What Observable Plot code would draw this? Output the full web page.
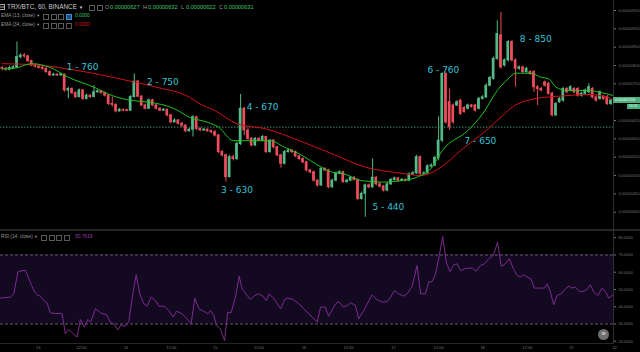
<!DOCTYPE html>
<html><head><meta charset="utf-8">
<script src="https://cdn.jsdelivr.net/npm/d3@7"></script>
<script src="https://cdn.jsdelivr.net/npm/@observablehq/plot@0.6"></script>
<style>
html,body{margin:0;padding:0;background:#000;}
#wrap{position:relative;width:640px;height:352px;background:#000;overflow:hidden;font-family:"Liberation Sans",Arial,sans-serif;}
#main{position:absolute;left:0;top:0;}
#rsi{position:absolute;left:0;top:231px;}
.abs{position:absolute;white-space:nowrap;line-height:1;}
.boxes{font-size:0;line-height:0;}
.bx{display:inline-block;width:4px;height:4px;border:1px solid #5a5a5a;margin-right:1.5px;}
</style></head>
<body>
<div id="wrap">
  <div id="main"></div>
  <div id="rsi"></div>
</div>
<script>
// ---- price data (units of 1e-8 BTC), hourly candles ----
const open = [793,791,789,793,795,823,827,825,812,800,
797,794,791,782,773,775,773,775,732,736,
725,714,732,709,718,714,727,730,725,718,
695,693,675,679,678,677,714,756,715,691,
682,705,691,682,677,679,664,645,650,641,
636,621,625,659,627,623,625,621,618,609,
564,555,496,550,545,586,682,623,600,582,
600,595,605,564,595,577,555,532,564,568,
564,552,545,536,514,509,486,473,518,514,
468,486,505,509,482,486,494,488,436,450,
473,468,494,476,470,459,476,488,492,486,
488,486,503,506,550,505,506,525,527,548,
595,777,700,691,691,704,684,682,691,691,
682,709,713,745,764,818,882,800,814,864,
814,791,795,782,782,782,741,736,754,750,
723,664,700,704,736,732,736,736,718,723,
727,736,713,709,714,714,695];
const close = [791,789,793,795,823,827,825,812,800,797,
794,791,782,773,775,773,775,732,736,725,
714,732,709,718,714,727,730,725,718,695,
693,675,679,677,676,714,756,715,691,682,
705,691,682,677,679,664,645,650,641,636,
621,625,659,627,623,625,621,618,609,564,
555,496,550,545,586,682,623,600,582,600,
595,605,564,595,577,555,532,564,568,564,
552,545,536,514,509,486,473,518,514,468,
486,505,509,482,486,494,488,436,450,473,
468,494,476,470,459,476,488,492,486,488,
486,503,506,550,505,506,525,527,548,595,
777,645,632,645,700,668,673,691,687,677,
709,713,745,766,818,886,795,814,864,814,
791,795,782,791,777,741,736,732,745,723,
664,695,709,736,727,741,727,718,723,732,
741,713,704,727,709,695,704];
const high = [797,795,798,800,864,832,833,828,815,803,
800,797,795,786,779,778,779,777,741,739,
728,736,734,722,720,745,733,732,727,720,
714,695,683,681,681,718,777,759,718,695,
709,708,694,685,683,682,667,655,653,645,
639,629,663,662,630,628,627,624,623,612,
568,558,555,556,591,721,686,627,604,604,
603,609,607,598,598,580,558,568,573,571,
567,555,548,539,517,512,489,522,521,517,
490,509,513,512,490,498,497,491,455,477,
477,545,497,480,473,480,492,496,495,492,
491,507,511,555,553,510,529,532,552,660,
780,780,736,695,704,708,688,695,694,694,
713,718,750,770,823,922,945,818,868,868,
818,799,798,795,786,786,745,740,758,754,
727,699,713,740,740,745,740,740,727,736,
750,740,717,731,718,718,708];
const low = [786,784,786,790,791,818,820,808,797,793,
790,787,779,770,771,770,771,727,709,720,
710,712,705,706,710,712,724,722,714,691,
686,671,673,674,674,675,711,712,688,679,
680,688,679,674,675,660,641,643,638,630,
617,618,605,623,620,620,618,614,605,560,
550,482,493,540,541,582,609,596,578,579,
592,592,560,561,573,551,520,529,561,560,
549,541,532,510,505,482,468,470,510,464,
465,483,502,479,479,483,485,432,433,386,
464,465,472,466,455,456,473,485,482,484,
483,483,500,503,500,500,503,520,524,540,
590,640,623,640,688,664,670,679,684,673,
679,706,710,742,760,814,790,796,810,810,
741,787,778,779,773,727,691,728,741,719,
660,661,697,700,723,728,723,714,714,719,
723,709,700,705,705,691,691];

// EMA lines read at candle positions
const ema13I = [0,3,8,13,18,25,30,35,40,47,51,56,59,63,66,73,77,81,87,90,93,98,104,109,113,117,120,127,131,135,138,140,144,147,149,151,154,160,163,166.7];
const ema13V = [791,792,805,795,768,741,718,705,700,682,659,645,632,595,595,595,577,559,523,509,505,486,482,486,495,520,568,623,668,732,764,779,779,768,764,741,732,732,727,718];
const ema34I = [0,9,15,23,30,36,42,51,54,58,64,72,81,90,99,109,114,120,125,132,136,139,145,150,154,160,165,166.7];
const ema34V = [805,802,795,782,768,755,741,714,695,677,641,627,595,559,523,506,500,525,568,623,659,686,709,715,718,721,714,705];

// RSI (14) read at candle positions
const rsiI = [-0.49,2.24,3.15,4.24,5.42,6.33,7.24,8.6,9.5,10.4,11.3,12.2,13.1,14.5,16.3,17.2,18.1,19.1,20.4,21.3,22.4,23.3,24.1,25.4,26.8,28.4,29.5,30.4,31.5,32.4,33.6,34.5,35.4,36.5,37.5,38.6,39.5,40.6,41.8,42.7,44.2,45.4,46.6,47.5,49.1,50.6,51.5,52.5,53.6,55.0,56.1,56.8,57.7,58.4,59.5,60.6,61.5,62.4,63.6,64.6,65.4,66.8,67.7,68.8,70.0,71.1,72.0,72.8,74.1,75.9,77.0,77.9,79.3,80.9,82.2,83.1,85.0,85.9,86.8,
88.1,89.0,90.9,91.8,93.0,94.1,95.1,96.3,97.2,98.6,100.0,100.9,102.1,103.6,105.0,105.9,107.0,108.1,109.5,110.6,111.8,112.4,113.1,114.1,115.4,116.3,117.2,118.1,119.2,120.1,121.1,122.1,123.1,124.0,125.0,126.1,127.2,128.3,129.2,130.4,131.5,132.7,133.9,135.1,136.1,137.2,138.3,139.3,140.4,141.3,142.2,143.1,144.2,145.1,146.8,147.9,148.6,149.5,150.4,151.3,152.4,153.6,154.5,155.4,156.3,157.5,158.6,159.5,160.4,161.3,162.4,163.6,164.5,165.4,166.6];
const rsiV = [45.0,45.6,47.5,60.1,61.0,61.0,56.2,49.4,46.9,46.1,43.6,42.3,36.5,36.1,36.1,24.3,26.8,24.9,22.4,32.6,28.2,32.6,31.1,38.8,36.5,35.3,31.1,30.1,26.6,29.5,28.6,31.4,44.6,58.5,47.5,41.7,40.3,45.6,43.6,40.3,40.3,37.8,34.0,37.4,35.9,32.4,30.1,45.0,38.8,37.3,35.9,37.8,34.9,29.1,27.2,20.4,36.9,36.5,45.6,57.7,50.4,46.5,44.2,46.5,47.5,46.1,43.6,47.5,44.6,38.8,44.2,45.0,44.2,41.7,38.8,36.9,33.0,31.1,39.8,
39.8,34.5,41.7,43.0,39.8,40.7,42.3,40.7,33.0,37.8,43.6,46.9,44.2,42.7,43.0,45.6,49.4,47.5,46.1,47.9,51.9,57.2,63.9,47.5,47.5,54.3,54.6,58.5,69.7,80.7,65.8,60.4,64.3,64.9,61.0,62.0,62.4,62.4,60.6,63.9,64.9,67.8,69.7,77.4,63.3,64.9,67.8,62.4,58.1,57.2,58.5,57.2,56.2,50.8,50.8,50.8,53.3,48.5,41.1,46.5,47.5,50.4,51.9,50.8,51.4,48.8,49.0,50.0,52.7,48.5,46.5,50.8,48.8,45.0,46.9];

// annotations
const noteText = ["1 - 760","2 - 750","3 - 630","4 - 670","5 - 440","6 - 760","7 - 650","8 - 850"];
const noteI = [21.9,43.8,64.0,71.0,105.3,120.3,130.4,145.5];
const noteP = [794.6,753.7,459.1,685.5,412.8,786.4,592.8,870.9];

// axes (the 700 label sits under the last-price tag)
const priceTicks = [400,450,500,550,600,650,750,800,850,900,950];
const hLine = 632;
const rsiTicks = [20,30,40,50,60,70,80];
const rsiBand = [30,70];
const timeTickI = [9.8,21.6,33.7,46.1,58.1,70.0,82.3,94.4,106.7,119.0,131.0,143.2,155.2,167.0];
const timeTickT = ["13","12:00","14","12:00","15","12:00","16","12:00","17","12:00","18","12:00","19","12"];

// header texts
const headerTitle = "TRX/BTC, 60, BINANCE";
const ohlcKeys = ["O","H","L","C"];
const ohlcVals = ["0.00000627","0.00000632","0.00000622","0.00000631"];
const lastPriceText = "0.00000706";
const countdown = "59:25";
const rsiLast = "50.7619";

// ---- build ----
const XD = [-0.49, 166.7];
const UP = "#53b987", DN = "#eb4d5c";
const candles = close.map((c, i) => ({i, o: open[i], h: high[i], l: low[i], c}));
const ups = candles.filter(d => d.c >= d.o), dns = candles.filter(d => d.c < d.o);
const ema13 = ema13I.map((i, k) => ({i, v: ema13V[k]}));
const ema34 = ema34I.map((i, k) => ({i, v: ema34V[k]}));
const rsi = rsiI.map((i, k) => ({i, v: rsiV[k]}));
const notes = noteText.map((t, k) => ({t, i: noteI[k], p: noteP[k]}));
const ticksX = timeTickI.map((i, k) => ({i, t: timeTickT[k]}));
const baseStyle = {background: "transparent", color: "#767676", fontSize: "4px", fontFamily: "Liberation Sans, Arial, sans-serif", overflow: "visible"};

function candleMarks(data, col) {
  return [
    Plot.ruleX(data, {x: "i", y1: "l", y2: "h", stroke: col, strokeWidth: 1}),
    Plot.rect(data, {x1: d => d.i - 0.37, x2: d => d.i + 0.37, y1: d => Math.min(d.o, d.c), y2: d => Math.max(d.o, d.c), fill: col, insetTop: -0.5, insetBottom: -0.5})
  ];
}

const main = Plot.plot({
  width: 640, height: 229, marginLeft: 0, marginRight: 27, marginTop: 0, marginBottom: 0,
  style: baseStyle,
  x: {domain: XD, axis: null},
  y: {domain: [352.8, 977.3], axis: "right", ticks: priceTicks, tickFormat: d => (d / 1e8).toFixed(8), tickSize: 2, tickPadding: 3, label: null},
  marks: [
    Plot.ruleY([hLine], {stroke: "#3d8c75", strokeDasharray: "1.5,1.5"}),
    ...candleMarks(ups, UP),
    ...candleMarks(dns, DN),
    Plot.line(ema34, {x: "i", y: "v", stroke: "#d01018", strokeWidth: 1, curve: "monotone-x"}),
    Plot.line(ema13, {x: "i", y: "v", stroke: "#1fc21f", strokeWidth: 1, curve: "monotone-x"}),
    Plot.text(notes, {x: "i", y: "p", text: "t", fill: "#36c2d6", fontSize: 9, fontFamily: "DejaVu Sans"})
  ]
});
document.getElementById("main").appendChild(main);

const rsiPlot = Plot.plot({
  width: 640, height: 121, marginLeft: 0, marginRight: 27, marginTop: 0, marginBottom: 9,
  style: baseStyle,
  x: {domain: XD, axis: null},
  y: {domain: [18.7, 83.6], axis: "right", ticks: rsiTicks, tickFormat: d => d.toFixed(4), tickSize: 2, tickPadding: 3, label: null},
  marks: [
    Plot.rect([{a: rsiBand[0], b: rsiBand[1]}], {y1: "a", y2: "b", fill: "#130920"}),
    Plot.ruleY(rsiBand, {stroke: "#6a5c76", strokeDasharray: "3,2"}),
    Plot.line(rsi, {x: "i", y: "v", stroke: "#7e2a92", strokeWidth: 1}),
    Plot.text(ticksX, {x: "i", text: "t", frameAnchor: "bottom", dy: 5, fill: "#767676", fontSize: 4})
  ]
});
document.getElementById("rsi").appendChild(rsiPlot);

// ---- overlays ----
const wrap = document.getElementById("wrap");
function add(html, css, cls) { const d = document.createElement("div"); d.className = "abs" + (cls ? " " + cls : ""); d.style.cssText = css; d.innerHTML = html; wrap.appendChild(d); return d; }
const boxes = (n, hi) => Array.from({length: n}, (_, k) => `<span class="bx"${hi === k ? ' style="border-color:#3a8fd8;background:#1c4f80"' : ''}></span>`).join("");
// separators
add("", "left:0;top:229px;width:640px;height:2px;background:#262626;");
add("", "left:613px;top:0;width:1px;height:344px;background:#2e2e2e;");
add("", "left:0;top:343px;width:614px;height:1px;background:#262626;");
// header: menu icon (drawn lines)
add("", "left:0;top:4px;width:4px;height:1px;background:#aaa;box-shadow:0 2.5px 0 #aaa,0 5px 0 #aaa;");
add("", "left:4px;top:4px;width:1px;height:6px;background:#aaa;");
const G = "#3fc46a";
add(headerTitle + ' <span style="font-size:4.5px">▼</span>', "left:7px;top:4px;font-size:6.4px;color:#c9c9c9;");
add(boxes(2), "left:89px;top:5px;", "boxes");
const ohlcX = [105, 143, 181, 219];
ohlcKeys.forEach((k, n) => {
  add(k, `left:${ohlcX[n]}px;top:4.6px;font-size:5.6px;color:#9a9a9a;`);
  add(ohlcVals[n], `left:${ohlcX[n] + 5}px;top:4.6px;font-size:5.6px;color:${G};`);
});
add('EMA (13, close) <span style="font-size:3.8px">▼</span>', "left:1px;top:13.5px;font-size:4.8px;color:#9a9a9a;");
add(boxes(4, 3), "left:43px;top:13.5px;", "boxes");
add('0.0000', `left:75px;top:13.5px;font-size:4.8px;color:${G};`);
add('EMA (34, close) <span style="font-size:3.8px">▼</span>', "left:1px;top:22.5px;font-size:4.8px;color:#9a9a9a;");
add(boxes(4), "left:43px;top:22.5px;", "boxes");
add('0.0000', "left:75px;top:22.5px;font-size:4.8px;color:#d01a1a;");
// RSI legend
add('RSI (14, close) <span style="font-size:3.8px">▼</span>', "left:1px;top:234.5px;font-size:4.8px;color:#9a9a9a;");
add(boxes(4), "left:41px;top:234.5px;", "boxes");
add(rsiLast, "left:75px;top:234.5px;font-size:4.8px;color:#9b3fb0;");
// last price tag
const yLast = main.scale("y").apply(close[close.length - 1]);
add(lastPriceText, `left:613px;top:${yLast - 3.5}px;width:27px;height:6.5px;background:#4caf7f;color:#e8fff0;font-size:3.8px;line-height:6.5px;padding-left:2px;box-sizing:border-box;`);
add(countdown, `left:627px;top:${yLast + 3.6}px;width:13px;height:5.5px;background:#4caf7f;color:#e8fff0;font-size:3.4px;line-height:5.5px;padding-left:2px;box-sizing:border-box;`);
// scroll button
add('»', "left:598px;top:329px;width:11px;height:11px;border-radius:50%;background:#6e6e6e;color:#eee;font-size:8px;line-height:10px;text-align:center;");
</script>
</body></html>
